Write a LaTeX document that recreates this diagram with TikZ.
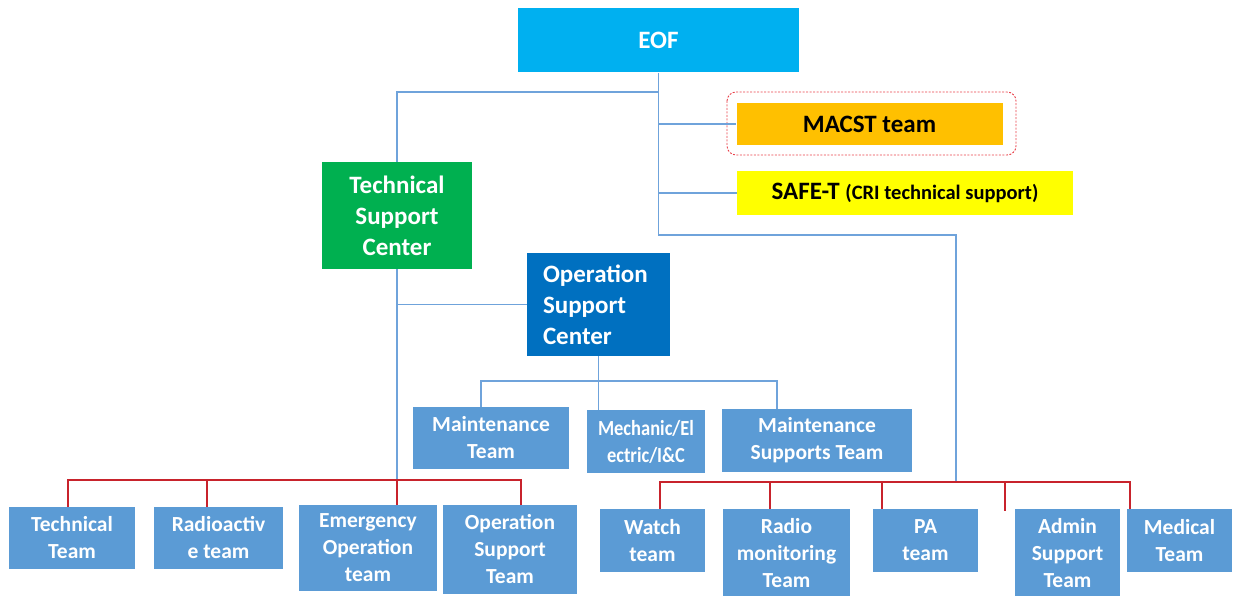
\documentclass[tikz,border=0pt]{standalone}
\usepackage{fontspec}
\setmainfont{Carlito}
\newfontfamily\condfont[FakeStretch=0.86]{Carlito}
\definecolor{eofc}{HTML}{00B0F0}
\definecolor{tscc}{HTML}{00B050}
\definecolor{oscc}{HTML}{0070C0}
\definecolor{boxc}{HTML}{5B9BD5}
\definecolor{macc}{HTML}{FFC000}
\definecolor{safc}{HTML}{FFFF00}
\definecolor{blline}{HTML}{6FA3DB}
\definecolor{rdline}{HTML}{C8232C}
\definecolor{framec}{HTML}{E8404A}
\tikzset{
  big/.style={inner sep=0pt, align=center, text=white, font=\bfseries\fontsize{25}{31}\selectfont},
  small/.style={fill=boxc, inner sep=0pt, align=center, text=white, font=\bfseries\fontsize{21.5}{27}\selectfont},
  bl/.style={draw=blline, line width=1.3pt},
  rd/.style={draw=rdline, line width=1.5pt},
}
\begin{document}
\begin{tikzpicture}[x=1pt,y=-1pt]
\useasboundingbox (0,0) rectangle (1236,596);
% top
\node[big, fill=eofc, minimum width=281, minimum height=64] (eof) at (658.5,40.5) {EOF};
\draw[framec, line width=0.9pt, dash pattern=on 2pt off 1.5pt, rounded corners=9pt] (727,92) rectangle (1016,155);
\node[big, fill=macc, text=black, minimum width=266, minimum height=42] (macst) at (869.5,124) {MACST team};
\node[big, fill=safc, text=black, minimum width=336, minimum height=43] (safet) at (905,193) {SAFE-T {\fontsize{20.5}{24}\selectfont (CRI technical support)}};
\node[big, fill=tscc, minimum width=150, minimum height=107] (tsc) at (397,215.5) {Technical\\Support\\Center};
\node[big, fill=oscc, align=left, text width=111, inner xsep=16pt, minimum height=103] (osc) at (598.5,304.5) {Operation\\Support\\Center};
% middle row
\node[small, minimum width=156, minimum height=62] (mt) at (491,438) {Maintenance\\Team};
\node[small, minimum width=118, minimum height=63] (mech) at (646,441.5) {\condfont Mechanic/El\\\condfont ectric/I\&C};
\node[small, minimum width=190, minimum height=63] (mst) at (817,440.5) {Maintenance\\Supports Team};
% bottom left
\node[small, minimum width=126, minimum height=62] (tt) at (72,538) {Technical\\Team};
\node[small, minimum width=129, minimum height=62] (ra) at (218.5,538) {Radioactiv\\e team};
\node[small, minimum width=138, minimum height=86] (emerg) at (368,548) {Emergency\\Operation\\team};
\node[small, minimum width=134, minimum height=89] (ost) at (510,549.5) {Operation\\Support\\Team};
% bottom right
\node[small, minimum width=105, minimum height=63] (watch) at (652.5,540.5) {Watch\\team};
\node[small, minimum width=127, minimum height=88] (radio) at (786.5,553) {Radio\\monitoring\\Team};
\node[small, minimum width=105, minimum height=63] (pa) at (925.5,540.5) {PA\\team};
\node[small, minimum width=105, minimum height=88] (admin) at (1067.5,553) {Admin\\Support\\Team};
\node[small, minimum width=105, minimum height=63] (medical) at (1179.5,540.5) {Medical\\Team};
% junction coordinates
\coordinate (jt) at (659,92);
\coordinate (jb) at (659,235);
\coordinate (rbusT) at (956,482);
\coordinate (mbL) at (481,381);
\coordinate (mbR) at (777,381);
\coordinate (lbL) at (68,480);
\coordinate (lb2) at (207,480);
\coordinate (lbR) at (521,480);
\coordinate (rbL) at (660,482);
\coordinate (rb2) at (770,482);
\coordinate (rb3) at (882,482);
\coordinate (rb4) at (1005,482);
\coordinate (rb4e) at (1005,511);
\coordinate (rbR) at (1130,482);
% blue connectors
\draw[bl] (eof.south) -- (eof.south |- jb) -| (rbusT);
\draw[bl] (eof.south |- jt) -| (tsc.north);
\draw[bl] (eof.south |- macst.west) -- (macst.west);
\draw[bl] (eof.south |- safet.west) -- (safet.west);
\draw[bl] (tsc.south) -- (tsc.south |- lbL);
\draw[bl] (tsc.south |- osc.west) -- (osc.west);
\draw[bl] (osc.south) -- (osc.south |- mech.north);
\draw[bl] (mt.north -| mbL) -- (mbL) -- (mbR) -- (mst.north -| mbR);
% red connectors
\draw[rd] (tt.north -| lbL) -- (lbL) -- (lbR) -- (ost.north -| lbR);
\draw[rd] (lb2) -- (ra.north -| lb2);
\draw[rd] (tsc.south |- lbL) -- (tsc.south |- emerg.north);
\draw[rd] (watch.north -| rbL) -- (rbL) -- (rbR) -- (medical.north -| rbR);
\draw[rd] (rb2) -- (radio.north -| rb2);
\draw[rd] (rb3) -- (pa.north -| rb3);
\draw[rd] (rb4) -- (rb4e);
\end{tikzpicture}
\end{document}
